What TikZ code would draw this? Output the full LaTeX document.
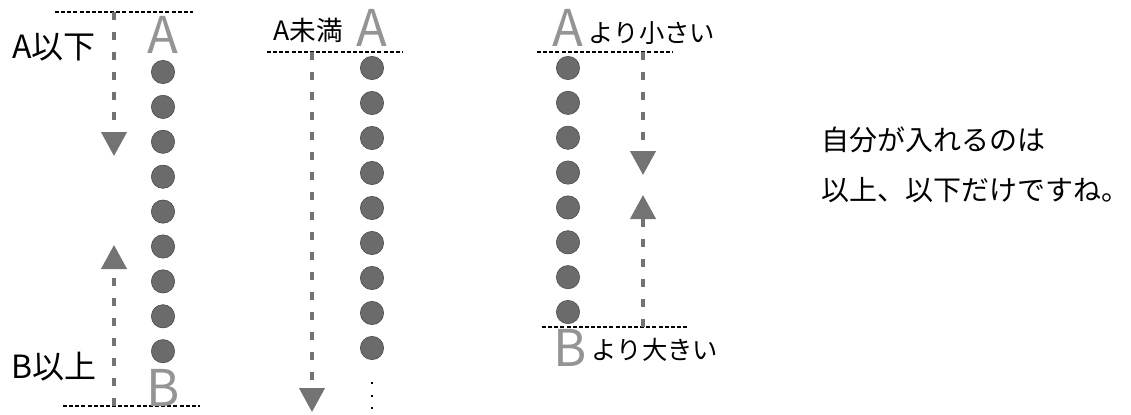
\documentclass[tikz,border=0pt]{standalone}
\usepackage{fontspec}
\newfontfamily\jpfont{Noto Sans CJK JP}
\usetikzlibrary{arrows.meta}
\tikzset{
  bead/.style={circle,fill=black!58,draw=black!72,line width=.4pt,inner sep=0pt,minimum size=17.5pt},
  rangearrow/.style={draw=black!55,line width=2.4pt,dash pattern=on 6pt off 9pt,
    -{Triangle[length=18pt,width=19pt]}},
  boundline/.style={draw=black,line width=.9pt,dash pattern=on 3pt off 1.6pt}
}

\begin{document}
\begin{tikzpicture}[
  x=0.75pt,
  y=-0.75pt,
  bigletter/.style={
    font=\jpfont\fontsize{38}{38}\selectfont,
    text=black!42,
    inner sep=0pt
  },
  limittext/.style={
    font=\jpfont\fontsize{24}{24}\selectfont,
    inner sep=0pt
  },
  smalltext/.style={
    font=\jpfont\fontsize{19}{19}\selectfont,
    inner sep=0pt
  },
  notetext/.style={
    font=\jpfont\fontsize{21}{21}\selectfont,
    inner sep=0pt,
    anchor=west
  },
  dotmark/.style={
    rectangle,
    fill=black,
    inner sep=0pt,
    minimum size=2pt
  }
]
\useasboundingbox (0,0) rectangle (1131,414);

  % --------------------------------------------------------------
  % Left: A or less, B or more (both ends included).
  % --------------------------------------------------------------
  \coordinate (lTopL) at (55,12);
  \coordinate (lTopR) at (193,12);
  \coordinate (lBotL) at (63,406);
  \coordinate (lBotR) at (200,406);
  \coordinate (lDownS) at (114,12);
  \coordinate (lDownT) at (114,156);
  \coordinate (lUpS)   at (114,406);
  \coordinate (lUpT)   at (114,245);

  \draw[boundline] (lTopL) -- (lTopR);
  \draw[boundline] (lBotL) -- (lBotR);
  \draw[rangearrow] (lDownS) -- (lDownT);
  \draw[rangearrow] (lUpS) -- (lUpT);

  \foreach \i in {0,...,8}
    {\node[bead] (l\i) at (163,{72+34.9*\i}) {};}

  \node[bigletter] (lA) at (163,35) {A};
  \node[bigletter] (lB) at (163,388) {B};
  \node[limittext] (lAtxt) at (54,47) {A以下};
  \node[limittext] (lBtxt) at (54,367) {B以上};


  % --------------------------------------------------------------
  % Middle: less than A (A itself left out).
  % --------------------------------------------------------------
  \coordinate (mTopL) at (267,52);
  \coordinate (mTopR) at (403,52);
  \coordinate (mDownS) at (312,52);
  \coordinate (mDownT) at (312,412);

  \draw[boundline] (mTopL) -- (mTopR);
  \draw[rangearrow] (mDownS) -- (mDownT);

  \foreach \i in {0,...,8}
    {\node[bead] (m\i) at (372,{68+35*\i}) {};}

  \foreach \j/\yy in {1/383,2/396,3/408}
    {\node[dotmark] (mDot\j) at (372,\yy) {};}

  \node[bigletter] (mA) at (372,28) {A};
  \node[smalltext,font=\jpfont\fontsize{20}{20}\selectfont] (mAtxt) at (308,30) {A未満};


  % --------------------------------------------------------------
  % Right: smaller than A, larger than B (ends left out).
  % --------------------------------------------------------------
  \coordinate (rTopL) at (537,52);
  \coordinate (rTopR) at (673,52);
  \coordinate (rBotL) at (542,327);
  \coordinate (rBotR) at (687,327);
  \coordinate (rDownS) at (643,52);
  \coordinate (rDownT) at (643,175);
  \coordinate (rUpS)   at (643,327);
  \coordinate (rUpT)   at (643,195);

  \draw[boundline] (rTopL) -- (rTopR);
  \draw[boundline] (rBotL) -- (rBotR);
  \draw[rangearrow] (rDownS) -- (rDownT);
  \draw[rangearrow] (rUpS) -- (rUpT);

  \foreach \i in {0,...,7}
    {\node[bead] (r\i) at (568,{68+34.86*\i}) {};}

  \node[bigletter] (rA) at (568,28) {A};
  \node[bigletter] (rB) at (570,348) {B};
  \node[smalltext] (rAtxt) at (652,33) {より小さい};
  \node[smalltext] (rBtxt) at (655,350) {より大きい};


  % --------------------------------------------------------------
  % Comment on the side.
  % --------------------------------------------------------------
  \node[notetext] (note1) at (821,140) {自分が入れるのは};
  \node[notetext] (note2) at (821,190) {以上、以下だけですね。};

\end{tikzpicture}
\end{document}
